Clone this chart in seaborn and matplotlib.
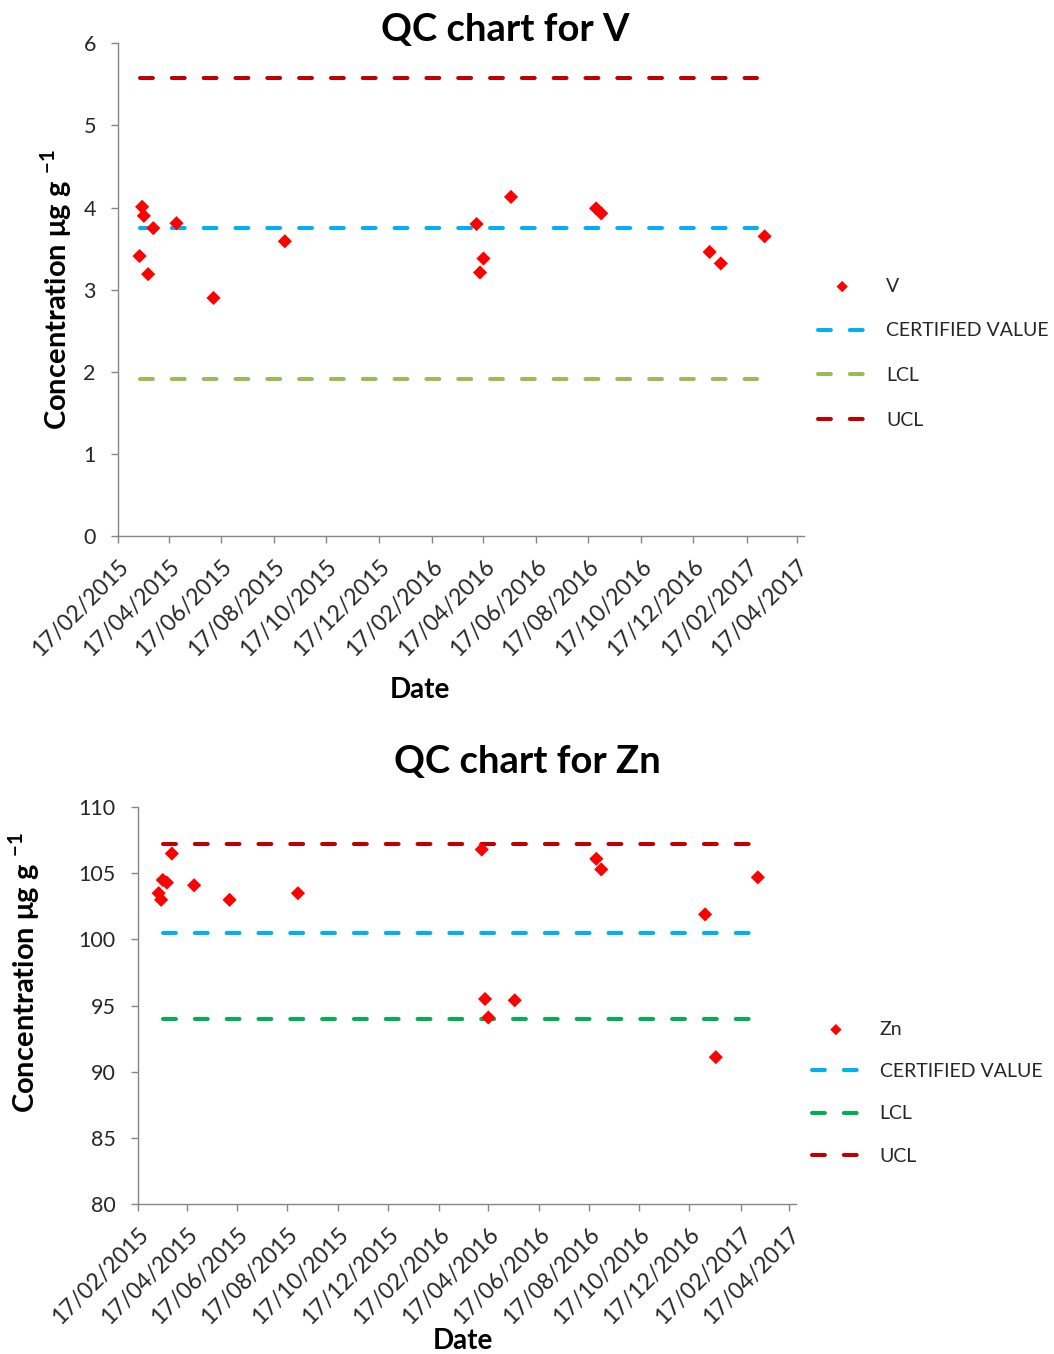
import matplotlib
matplotlib.use("Agg")
import matplotlib.pyplot as plt
import matplotlib.dates as mdates
import seaborn as sns
import pandas as pd

# Sampling dates of the reference material (shared by both elements)
sample_dates = ["2015-03-14", "2015-03-17", "2015-03-19", "2015-03-24", "2015-03-30",
                "2015-04-26", "2015-06-08", "2015-08-30", "2016-04-09", "2016-04-13",
                "2016-04-17", "2016-05-19", "2016-08-26", "2016-09-01", "2017-01-05",
                "2017-01-18", "2017-03-10"]

v_values = [3.41, 4.01, 3.90, 3.19, 3.75, 3.81, 2.90, 3.59, 3.80, 3.21,
            3.38, 4.13, 3.99, 3.93, 3.46, 3.32, 3.65]
zn_values = [103.5, 103.0, 104.5, 104.3, 106.5, 104.1, 103.0, 103.5, 106.8, 95.5,
             94.1, 95.4, 106.1, 105.3, 101.9, 91.1, 104.7]

# Control limits
v_limits = {"CERTIFIED VALUE": 3.75, "LCL": 1.91, "UCL": 5.58}
zn_limits = {"CERTIFIED VALUE": 100.5, "LCL": 94.0, "UCL": 107.2}
v_limit_span = ["2015-03-14", "2017-03-01"]
zn_limit_span = ["2015-03-19", "2017-03-02"]

x_ticks_start, x_ticks_end = "2015-02-17", "2017-04-17"

sns.set_theme(style="white")
plt.rcParams["font.family"] = ["Lato", "DejaVu Sans"]
plt.rcParams["mathtext.fontset"] = "custom"
plt.rcParams["mathtext.rm"] = "Lato"
plt.rcParams["mathtext.bf"] = "Lato:bold"

AXIS_GREY = "#868686"
TEXT = "#262626"
MARKER_RED = "#FF0000"
CV_BLUE = "#00B0F0"
UCL_RED = "#C00000"

fig = plt.figure(figsize=(10.54, 13.54), dpi=100)
ax1 = fig.add_axes([0.112, 0.604, 0.651, 0.364])
ax2 = fig.add_axes([0.131, 0.1108, 0.624, 0.293])


def draw_panel(ax, name, values, limits, span, lcl_color, yticks, ylim,
               ylabel_xy, xlabel_xy, legend_xy, legend_spacing):
    df = pd.DataFrame({"Date": pd.to_datetime(sample_dates), "Value": values})
    sns.scatterplot(data=df, x="Date", y="Value", ax=ax, marker="D", s=52,
                    color=MARKER_RED, edgecolor="none", label=name, zorder=5)
    colors = {"CERTIFIED VALUE": CV_BLUE, "LCL": lcl_color, "UCL": UCL_RED}
    for key in ["CERTIFIED VALUE", "LCL", "UCL"]:
        ldf = pd.DataFrame({"Date": pd.to_datetime(span), "Value": [limits[key]] * 2})
        sns.lineplot(data=ldf, x="Date", y="Value", ax=ax, color=colors[key],
                     linewidth=2.9, label=key, zorder=3)
        line = ax.lines[-1]
        line.set_dashes((3.2, 4.7))
        line.set_dash_capstyle("round")

    ax.set_ylim(*ylim)
    ax.set_yticks(yticks)
    ax.set_xlim(pd.Timestamp(x_ticks_start), pd.Timestamp(x_ticks_end) + pd.Timedelta(days=8))
    ax.xaxis.set_major_locator(mdates.MonthLocator(bymonth=[2, 4, 6, 8, 10, 12], bymonthday=17))
    ax.xaxis.set_major_formatter(mdates.DateFormatter("%d/%m/%Y"))

    for side in ["top", "right"]:
        ax.spines[side].set_visible(False)
    for side in ["left", "bottom"]:
        ax.spines[side].set_color(AXIS_GREY)
        ax.spines[side].set_linewidth(1.0)
    ax.tick_params(axis="both", which="major", direction="out", length=5,
                   width=1.0, color=AXIS_GREY, labelcolor=TEXT, labelsize=15.5,
                   left=True, bottom=True)
    ax.tick_params(axis="x", pad=9, labelsize=16.5)
    ax.tick_params(axis="y", pad=11)
    for lbl in ax.get_xticklabels():
        lbl.set_rotation(45)
        lbl.set_ha("right")
        lbl.set_rotation_mode("anchor")

    ax.set_ylabel(r"Concentration μg g $^{\mathbf{-1}}$", fontsize=21,
                  fontweight="bold", color="black")
    ax.yaxis.set_label_coords(*ylabel_xy)
    ax.set_xlabel("Date", fontsize=20, fontweight="bold", color="black")
    ax.xaxis.set_label_coords(*xlabel_xy)

    ax.legend(loc="center left", bbox_to_anchor=legend_xy,
              bbox_transform=fig.transFigure, frameon=False, fontsize=14,
              handlelength=2.5, handletextpad=1.0, borderpad=0, borderaxespad=0,
              labelspacing=legend_spacing, labelcolor=TEXT, markerscale=0.8)


draw_panel(ax1, "V", v_values, v_limits, v_limit_span, "#9BBB59",
           list(range(0, 7)), (0, 6), (-0.064, 0.5), (0.44, -0.286),
           (0.776, 0.739), 1.43)
draw_panel(ax2, "Zn", zn_values, zn_limits, zn_limit_span, "#00B050",
           list(range(80, 111, 5)), (80, 110), (-0.146, 0.584), (0.494, -0.312),
           (0.770, 0.193), 1.3)

fig.text(505 / 1054, 1 - 30 / 1354, "QC chart for V", ha="center", va="center",
         fontsize=27.5, fontweight="bold", color="black")
fig.text(527 / 1054, 1 - 762 / 1354, "QC chart for Zn", ha="center", va="center",
         fontsize=27.5, fontweight="bold", color="black")

fig.savefig("out.png", dpi=100, facecolor="white")
